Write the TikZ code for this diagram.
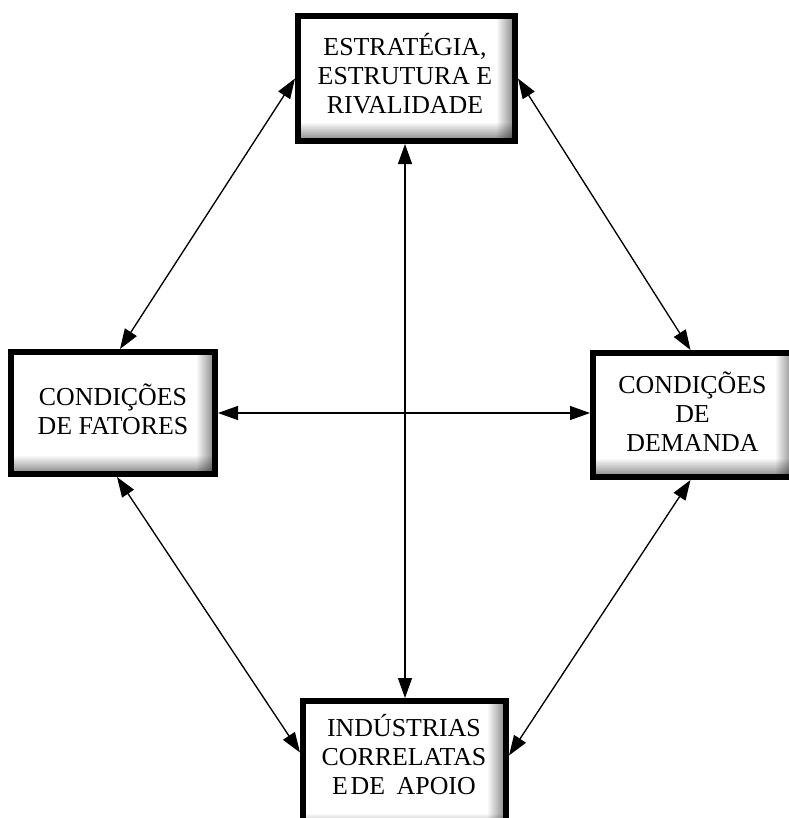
\documentclass[tikz,border=0pt]{standalone}
\usepackage{fontspec}
\setmainfont{Liberation Serif}
\usetikzlibrary{arrows.meta,calc,fadings}
% soft inner shadow along the right and bottom inner edges of each box
\tikzfading[name=shadeleft, left color=transparent!100, right color=transparent!0]
\tikzfading[name=shadetop, top color=transparent!100, bottom color=transparent!0]

\begin{document}
\begin{tikzpicture}[x=0.75pt,y=-0.75pt,
  block/.style={rectangle, draw=black, line width=4.5pt, fill=white,
                outer sep=2.25pt, inner sep=0pt},
  blocktext/.style={align=center, inner sep=0pt, text=black,
                    font=\fontsize{19.4pt}{21.75pt}\selectfont},
  tip/.tip={Triangle[length=15pt,width=10.5pt]},
  link/.style={line width=1pt, draw=black, tip-tip}
]
\useasboundingbox (0,0) rectangle (789,818);
\fill[white] (0,0) rectangle (789,818);

% the four boxes
\node[block, minimum width=162.75pt, minimum height=93.75pt] (top)    at (406.5,78.5) {};
\node[block, minimum width=153pt,    minimum height=91.5pt]  (left)   at (113,413)    {};
\node[block, minimum width=150.75pt, minimum height=93pt]    (right)  at (693.5,415)  {};
\node[block, minimum width=152.25pt, minimum height=98.25pt] (bottom) at (404.5,766.5) {};

% inner shadows
\foreach \b in {top,left,right,bottom}{
  \fill[black, fill opacity=0.42, path fading=shadeleft]
    ($(\b.north east)+(-22,6)$) rectangle ($(\b.south east)+(-6,-6)$);
  \fill[black, fill opacity=0.42, path fading=shadetop]
    ($(\b.south west)+(6,-22)$) rectangle ($(\b.south east)+(-6,-6)$);
}

% box texts
\node[blocktext] (top-text)    at (405,74)    {ESTRATÉGIA,\\ESTRUTURA E\\RIVALIDADE};
\node[blocktext] (left-text)   at (113,409.5) {CONDIÇÕES\\DE FATORES};
\node[blocktext] (right-text)  at (692.5,411.5) {CONDIÇÕES\\DE\\DEMANDA};
\node[blocktext] (bottom-text) at (404,754.5) {INDÚSTRIAS\\CORRELATAS\\E\hspace{0.1em}DE\hspace{0.45em}APOIO};

% connectors
\coordinate (vtop) at ($(top.south)+(-1.5,0)$);
\draw[link] (top.west) -- ($(left.north)+(7,0)$);
\draw[link] (top.east) -- ($(right.north)+(-3,0)$);
\draw[link] ($(left.south)+(4,0)$) -- ($(bottom.west)+(0,-14)$);
\draw[link] ($(right.south)+(-3,0)$) -- ($(bottom.east)+(0,-11)$);
\draw[link] (left.east) -- (left.east -| right.west);
\draw[link] (vtop) -- (vtop |- bottom.north);
\end{tikzpicture}
\end{document}
